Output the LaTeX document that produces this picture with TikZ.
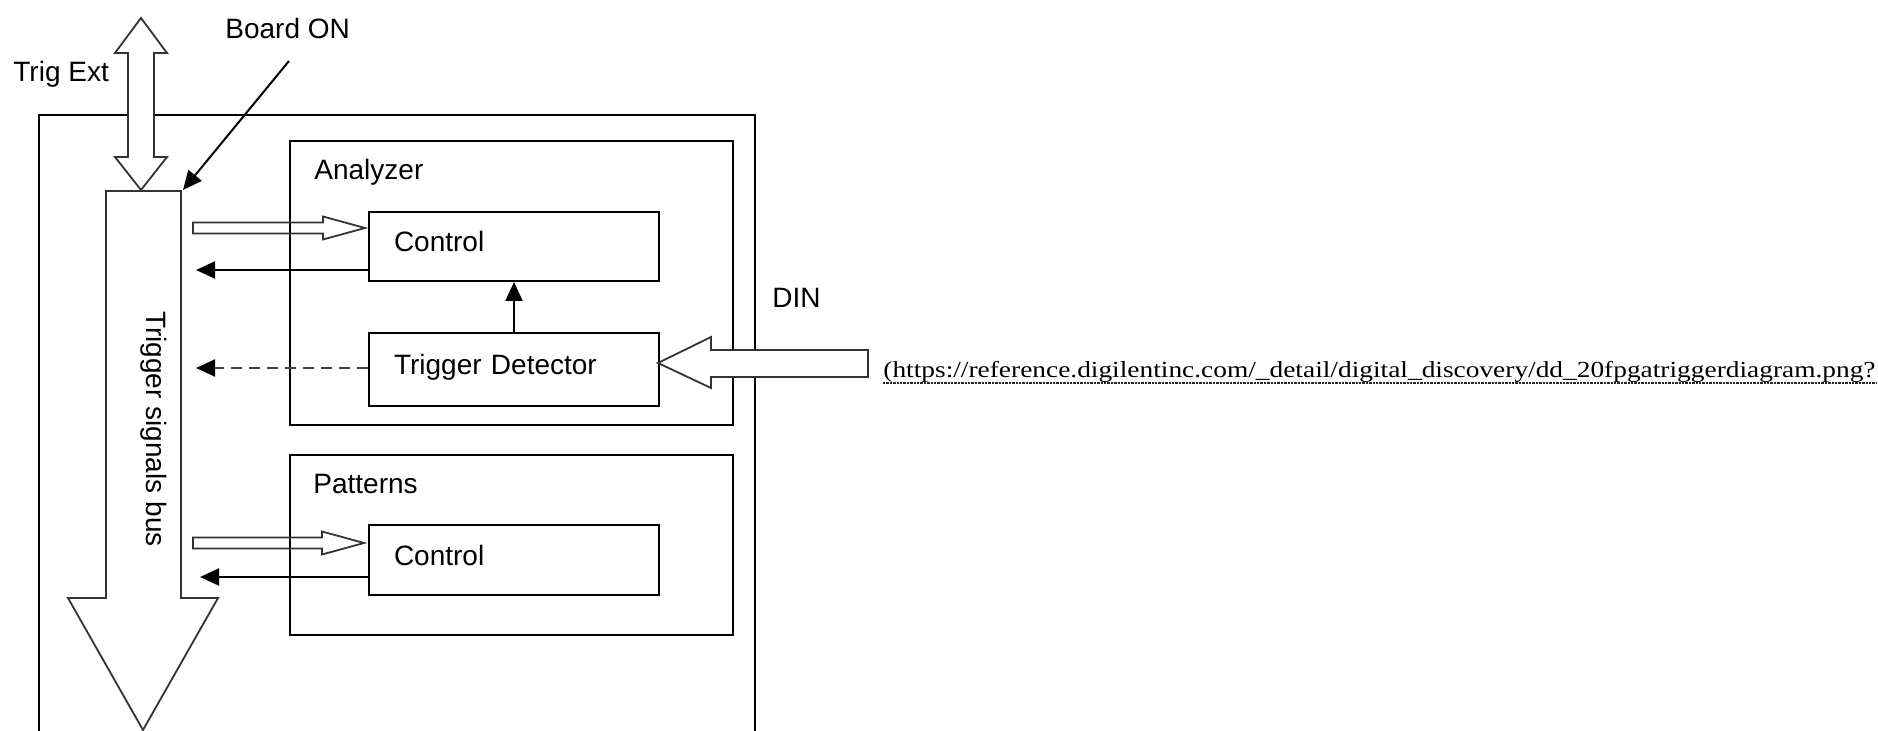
\documentclass[tikz,border=0pt]{standalone}
\usepackage{fontspec}
\setmainfont{Liberation Sans}
\newfontfamily\urlfont{Liberation Serif}
\usetikzlibrary{arrows.meta}

\tikzset{
	box/.style={draw, line width=1pt, anchor=north west, inner sep=0pt},
	blk/.style={draw, line width=1pt, anchor=north west, inner xsep=12.5pt, text width=120pt, align=left, text height=9pt, text depth=3.5pt, font=\fontsize{14}{16}\selectfont},
	lbl/.style={anchor=west, inner sep=0pt, font=\fontsize{14}{16}\selectfont},
	wire/.style={line width=1pt, -{Triangle[length=9.5pt,width=8.5pt,color=black]}},
	hollow/.style={line width=0.9pt, draw=black!80, line join=miter}
}

\begin{document}
\begin{tikzpicture}[x=0.5pt, y=-0.5pt]
\useasboundingbox (0,0) rectangle (1878,731);
\draw[line width=1pt] (39,731) -- (39,115) -- (755,115) -- (755,731);

\node[box, minimum width=221.5pt, minimum height=142pt] (analyzer) at (289,140) {};
\node[box, minimum width=221.5pt, minimum height=90pt] (patterns) at (289,454) {};
\node[lbl] (analyzerlbl) at (314,172) {Analyzer};
\node[lbl] (patternslbl) at (313,484) {Patterns};

\node[blk, minimum height=34.5pt] (anactrl) at (368,211) {Control};
\node[blk, minimum height=36.5pt] (trigdet) at (368,332) {Trigger Detector};
\node[blk, minimum height=35pt] (patctrl) at (368,524) {Control};

\draw[hollow, fill=white] (141,18) -- (167,53) -- (154,53) -- (154,157) -- (167,157) -- (141,190)
	-- (115,157) -- (128,157) -- (128,53) -- (115,53) -- cycle;
\draw[hollow, fill=white] (106,191) -- (181,191) -- (181,598) -- (218,598) -- (143,730)
	-- (68,598) -- (106,598) -- cycle;
\node[rotate=-90, inner sep=0pt, font=\fontsize{14}{16}\selectfont] (buslbl) at (154,429) {Trigger signals bus};

\draw[hollow] (193,222.5) -- (323,222.5) -- (323,216.5) -- (365,228) -- (323,239.5) -- (323,233.5) -- (193,233.5) -- cycle;
\draw[hollow] (193,537.5) -- (322,537.5) -- (322,531.5) -- (364,543) -- (322,554.5) -- (322,548.5) -- (193,548.5) -- cycle;
\draw[hollow, fill=white] (868,350) -- (711,350) -- (711,337) -- (658,363) -- (711,388) -- (711,377) -- (868,377) -- cycle;

\node[lbl] (trigext) at (13,74) {Trig Ext};
\node[lbl] (boardon) at (225,28) {Board ON};
\node[lbl] (din) at (772,298) {DIN};

\coordinate (boardtail) at (289,61);
\coordinate (bustop) at (183,190);
\coordinate (busa) at (196,270);
\coordinate (busb) at (196,368);
\coordinate (busc) at (200,577);
\draw[wire] (boardtail) -- (bustop);
\draw[wire] (anactrl.west |- busa) -- (busa);
\draw[wire, dash pattern=on 5.5pt off 3.5pt, draw=black!75] (trigdet.west |- busb) -- (busb);
\draw[wire] (trigdet.north) -- (anactrl.south);
\draw[wire] (patctrl.west |- busc) -- (busc);

\node[anchor=base west, inner sep=0pt] (srcurl) at (883,378) {\resizebox{496pt}{\height}{\urlfont\fontsize{11.5}{13}\selectfont (https://reference.digilentinc.com/\_detail/digital\_discovery/dd\_20fpgatriggerdiagram.png?}};
\draw[line width=0.9pt, black!85, dash pattern=on 1.2pt off 0.5pt] ([yshift=-2.5pt]srcurl.base west) -- ([yshift=-2.5pt]srcurl.base east);
\end{tikzpicture}
\end{document}
